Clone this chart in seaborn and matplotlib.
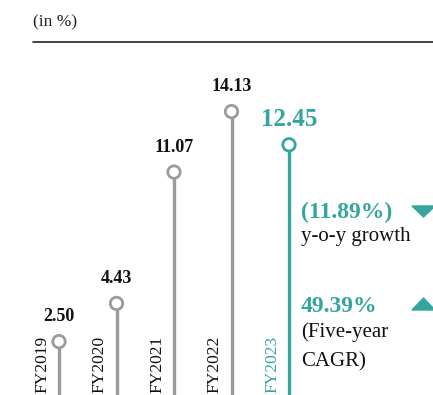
import matplotlib
matplotlib.use("Agg")
import matplotlib.pyplot as plt
import seaborn as sns
import pandas as pd

years = ["FY2019", "FY2020", "FY2021", "FY2022", "FY2023"]
values = [2.50, 4.43, 11.07, 14.13, 12.45]
yoy_growth = "(11.89%)"
cagr = "49.39%"

GREY = "#9b9b9b"
TEAL = "#35a69e"

sns.set_style("white")
plt.rcParams["font.family"] = ["Liberation Serif", "DejaVu Serif"]

df = pd.DataFrame({"year": years, "value": values})
df["pos"] = range(len(df))
df["latest"] = df["year"] == years[-1]

fig = plt.figure(figsize=(4.33, 3.95), dpi=100)
ax = fig.add_axes([0, 0, 1, 1])
ax.set_xlim(-1.026, 6.504)
ax.set_ylim(-0.2, 19.77)
ax.axis("off")

colors = [TEAL if l else GREY for l in df["latest"]]
ax.vlines(df["pos"], -0.2, df["value"], colors=colors, linewidth=2.4, zorder=1)
sns.scatterplot(data=df, x="pos", y="value", hue="latest",
                palette={False: GREY, True: TEAL},
                s=80, linewidth=2, legend=False, ax=ax, zorder=3)
# hollow markers: edge colours follow hue
for coll in ax.collections[1:]:
    coll.set_edgecolors(coll.get_facecolors())
    coll.set_facecolors("white")

for i, row in df.iterrows():
    c = TEAL if row["latest"] else "#111111"
    ax.annotate(f"{row['value']:.2f}", (row["pos"], row["value"]),
                xytext=(0, 25), textcoords="offset pixels",
                ha="center", va="center", fontsize=18 if row["latest"] else 13,
                fontweight="bold", color=c)
    ax.annotate(row["year"], (row["pos"], 0), xytext=(-17, -2), textcoords="offset pixels",
                ha="center", va="bottom", rotation=90, fontsize=12.5, color=c)

# header
fig.text(33 / 433, 1 - 22 / 395, "(in %)", ha="left", va="center", fontsize=12.5, color="#222222")
fig.add_artist(plt.Line2D([33 / 433, 1], [1 - 42 / 395] * 2, color="#222222", linewidth=1.2))

# side annotations
def fx(px):
    return px / 433

def fy(py):
    return 1 - py / 395

fig.text(fx(301), fy(212), yoy_growth, ha="left", va="center", fontsize=17, fontweight="bold", color=TEAL)
fig.text(fx(301), fy(237), "y-o-y growth", ha="left", va="center", fontsize=15, color="#111111")
fig.text(fx(301), fy(306), cagr, ha="left", va="center", fontsize=17, fontweight="bold", color=TEAL)
fig.text(fx(301), fy(332), "(Five-year", ha="left", va="center", fontsize=15, color="#111111")
fig.text(fx(301), fy(362), "CAGR)", ha="left", va="center", fontsize=15, color="#111111")
fig.add_artist(plt.Polygon([[fx(412), fy(206)], [fx(435), fy(206)], [fx(423.5), fy(217)]],
                           closed=True, color=TEAL, transform=fig.transFigure))
fig.add_artist(plt.Polygon([[fx(412), fy(310)], [fx(435), fy(310)], [fx(423.5), fy(298)]],
                           closed=True, color=TEAL, transform=fig.transFigure))

fig.savefig("out.png", dpi=100)
